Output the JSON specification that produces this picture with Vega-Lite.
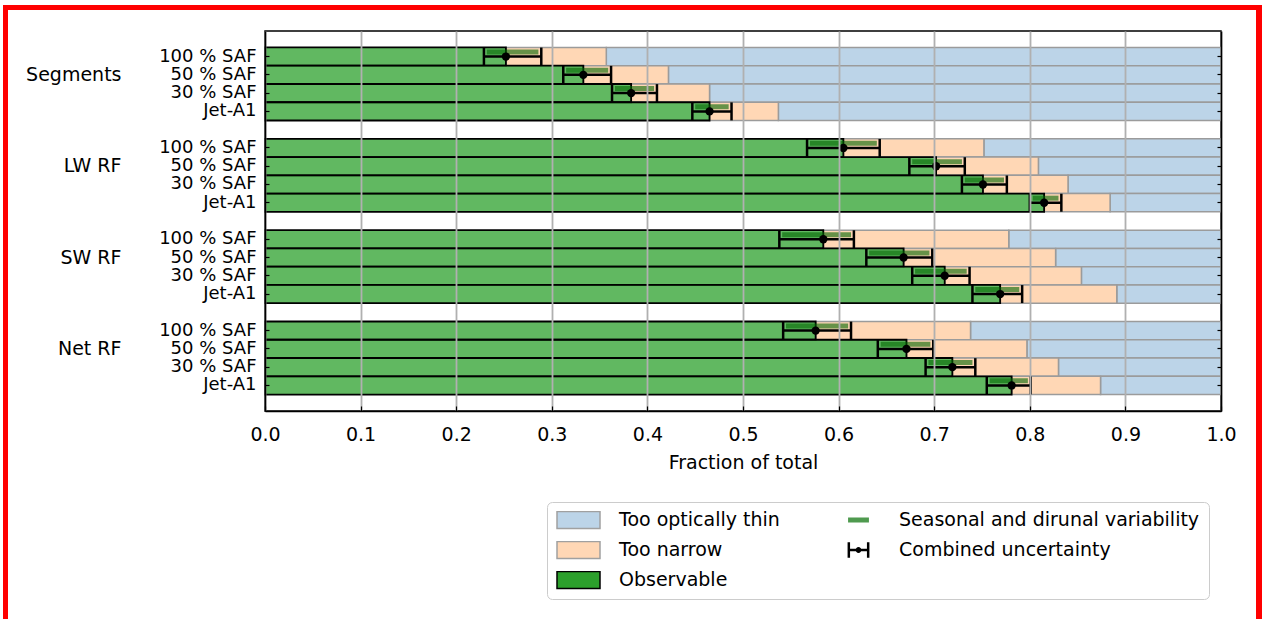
{
  "$schema": "https://vega.github.io/schema/vega-lite/v6.json",
  "background": "white",
  "padding": {"left": 3, "top": 5, "right": 2, "bottom": 0},
  "bounds": "full",
  "spacing": 0,
  "config": {
    "font": "DejaVu Sans",
    "view": {"stroke": null},
    "axis": {"labelFont": "DejaVu Sans", "titleFont": "DejaVu Sans", "labelColor": "black", "titleColor": "black"},
    "legend": {"labelFont": "DejaVu Sans"}
  },
  "datasets": {
    "rows": [
      {"k": "Segments|100 % SAF", "obs": 0.252, "nar": 0.357, "lo": 0.229, "hi": 0.289, "vlo": 0.232, "vhi": 0.286},
      {"k": "Segments|50 % SAF", "obs": 0.333, "nar": 0.422, "lo": 0.312, "hi": 0.362, "vlo": 0.315, "vhi": 0.359},
      {"k": "Segments|30 % SAF", "obs": 0.383, "nar": 0.465, "lo": 0.363, "hi": 0.410, "vlo": 0.366, "vhi": 0.407},
      {"k": "Segments|Jet-A1", "obs": 0.465, "nar": 0.537, "lo": 0.447, "hi": 0.488, "vlo": 0.450, "vhi": 0.485},
      {"k": "LW RF|100 % SAF", "obs": 0.605, "nar": 0.752, "lo": 0.567, "hi": 0.643, "vlo": 0.570, "vhi": 0.640},
      {"k": "LW RF|50 % SAF", "obs": 0.702, "nar": 0.809, "lo": 0.674, "hi": 0.732, "vlo": 0.677, "vhi": 0.729},
      {"k": "LW RF|30 % SAF", "obs": 0.751, "nar": 0.840, "lo": 0.729, "hi": 0.776, "vlo": 0.732, "vhi": 0.773},
      {"k": "LW RF|Jet-A1", "obs": 0.815, "nar": 0.884, "lo": 0.800, "hi": 0.833, "vlo": 0.803, "vhi": 0.830},
      {"k": "SW RF|100 % SAF", "obs": 0.584, "nar": 0.778, "lo": 0.538, "hi": 0.616, "vlo": 0.541, "vhi": 0.613},
      {"k": "SW RF|50 % SAF", "obs": 0.668, "nar": 0.827, "lo": 0.629, "hi": 0.698, "vlo": 0.632, "vhi": 0.695},
      {"k": "SW RF|30 % SAF", "obs": 0.711, "nar": 0.854, "lo": 0.677, "hi": 0.737, "vlo": 0.680, "vhi": 0.734},
      {"k": "SW RF|Jet-A1", "obs": 0.769, "nar": 0.891, "lo": 0.740, "hi": 0.792, "vlo": 0.743, "vhi": 0.789},
      {"k": "Net RF|100 % SAF", "obs": 0.576, "nar": 0.738, "lo": 0.542, "hi": 0.613, "vlo": 0.545, "vhi": 0.610},
      {"k": "Net RF|50 % SAF", "obs": 0.671, "nar": 0.797, "lo": 0.641, "hi": 0.699, "vlo": 0.644, "vhi": 0.696},
      {"k": "Net RF|30 % SAF", "obs": 0.719, "nar": 0.830, "lo": 0.691, "hi": 0.743, "vlo": 0.694, "vhi": 0.740},
      {"k": "Net RF|Jet-A1", "obs": 0.781, "nar": 0.874, "lo": 0.755, "hi": 0.801, "vlo": 0.758, "vhi": 0.798}
    ]
  },
  "hconcat": [
    {"width": 5, "height": 614, "view": {"fill": "#ff0000", "stroke": null}, "data": {"values": []}, "mark": "rule", "encoding": {}},
    {
      "bounds": "flush",
      "spacing": 21,
      "vconcat": [
        {"width": 1248, "height": 5, "view": {"fill": "#ff0000", "stroke": null}, "data": {"values": []}, "mark": "rule", "encoding": {}},
        {
          "bounds": "flush",
          "spacing": 256,
          "hconcat": [
            {"width": 1, "height": 1, "data": {"values": []}, "mark": "rule", "encoding": {}},
            {
              "width": 956,
              "height": 380,
              "view": {"stroke": "black", "strokeWidth": 1.5},
              "data": {"name": "rows"},
              "resolve": {"axis": {"x": "independent", "y": "independent"}},
              "layer": [
                {
                  "mark": {"type": "bar", "opacity": 0},
                  "encoding": {
                    "x": {"field": "obs", "type": "quantitative", "stack": null, "axis": null},
                    "y": {"field": "k", "type": "nominal", "axis": null,
                      "scale": {"type": "band", "paddingInner": 0, "paddingOuter": 0.9, "domain": ["Segments|100 % SAF", "Segments|50 % SAF", "Segments|30 % SAF", "Segments|Jet-A1", "gap1", "LW RF|100 % SAF", "LW RF|50 % SAF", "LW RF|30 % SAF", "LW RF|Jet-A1", "gap2", "SW RF|100 % SAF", "SW RF|50 % SAF", "SW RF|30 % SAF", "SW RF|Jet-A1", "gap3", "Net RF|100 % SAF", "Net RF|50 % SAF", "Net RF|30 % SAF", "Net RF|Jet-A1"]}},
                    "color": {"datum": "Observable",
                      "scale": {"domain": ["Too optically thin", "Too narrow", "Observable", "Seasonal and dirunal variability", "Combined uncertainty"],
                        "range": ["#bcd4e8", "#ffd7b5", "#2ca02c", "#4f9a4f", "#000000"]},
                      "legend": {"orient": "none", "legendX": 544, "legendY": 497, "title": null, "columns": 2,
                        "symbolSize": 1849, "clipHeight": 18, "rowPadding": 11, "columnPadding": 56, "labelOffset": 18,
                        "labelFontSize": 19, "labelColor": "black", "labelLimit": 500, "padding": 9, "cornerRadius": 5,
                        "strokeColor": "#cccccc", "fillColor": "white", "symbolOpacity": 1, "symbolStrokeWidth": 1.5,
                        "symbolType": {"expr": "datum.value === 'Combined uncertainty' ? 'M-0.473,-0.33H-0.427V0.33H-0.473ZM0.427,-0.33H0.473V0.33H0.427ZM-0.45,-0.023H0.45V0.023H-0.45ZM-0.1,0A0.1,0.1,0,1,0,0.1,0A0.1,0.1,0,1,0,-0.1,0Z' : datum.value === 'Seasonal and dirunal variability' ? 'M-0.45,-0.08H0.45V0.08H-0.45Z' : 'M-1,-0.4H1V0.4H-1Z'"},
                        "symbolStrokeColor": {"expr": "datum.value === 'Observable' || datum.value === 'Combined uncertainty' ? '#000000' : datum.value === 'Seasonal and dirunal variability' ? '#4f9a4f' : '#a0a0a0'"}
                      }}
                  }
                },
                {
                  "mark": {"type": "bar", "fill": "#bcd4e8", "stroke": "#9b9b9b", "strokeWidth": 1.5},
                  "encoding": {
                    "x": {"field": "nar", "type": "quantitative", "scale": {"domain": [0, 1], "nice": false, "zero": false},
                      "axis": {"orient": "bottom", "values": [0, 0.1, 0.2, 0.3, 0.4, 0.5, 0.6, 0.7, 0.8, 0.9, 1.0], "format": ".1f", "title": "Fraction of total",
                        "grid": true, "gridColor": "#b0b0b0", "gridWidth": 1.8, "domain": true, "domainColor": "black", "domainWidth": 1.5,
                        "tickColor": "black", "tickSize": -5, "tickWidth": 1.2, "labelFontSize": 19, "labelPadding": 19, "labelFlush": false,
                        "titleFontSize": 19, "titleFontWeight": "normal", "titlePadding": 9, "zindex": 1}},
                    "x2": {"datum": 1},
                    "y": {"field": "k", "type": "nominal",
                      "scale": {"type": "band", "paddingInner": 0, "paddingOuter": 0.9, "domain": ["Segments|100 % SAF", "Segments|50 % SAF", "Segments|30 % SAF", "Segments|Jet-A1", "gap1", "LW RF|100 % SAF", "LW RF|50 % SAF", "LW RF|30 % SAF", "LW RF|Jet-A1", "gap2", "SW RF|100 % SAF", "SW RF|50 % SAF", "SW RF|30 % SAF", "SW RF|Jet-A1", "gap3", "Net RF|100 % SAF", "Net RF|50 % SAF", "Net RF|30 % SAF", "Net RF|Jet-A1"]},
                      "axis": {"orient": "left", "title": null,
                        "values": ["Segments|100 % SAF", "Segments|50 % SAF", "Segments|30 % SAF", "Segments|Jet-A1", "LW RF|100 % SAF", "LW RF|50 % SAF", "LW RF|30 % SAF", "LW RF|Jet-A1", "SW RF|100 % SAF", "SW RF|50 % SAF", "SW RF|30 % SAF", "SW RF|Jet-A1", "Net RF|100 % SAF", "Net RF|50 % SAF", "Net RF|30 % SAF", "Net RF|Jet-A1"],
                        "labelExpr": "split(datum.value, '|')[1]", "tickSize": -4, "tickColor": "black", "tickWidth": 1.2,
                        "domainColor": "black", "domainWidth": 1.5, "labelFontSize": 18, "labelPadding": 13, "zindex": 1}}
                  }
                },
                {
                  "mark": {"type": "bar", "fill": "#ffd7b5", "stroke": "#9b9b9b", "strokeWidth": 1.5},
                  "encoding": {
                    "x": {"field": "obs", "type": "quantitative", "axis": null},
                    "x2": {"field": "nar"},
                    "y": {"field": "k", "type": "nominal",
                      "scale": {"type": "band", "paddingInner": 0, "paddingOuter": 0.9, "domain": ["Segments|100 % SAF", "Segments|50 % SAF", "Segments|30 % SAF", "Segments|Jet-A1", "gap1", "LW RF|100 % SAF", "LW RF|50 % SAF", "LW RF|30 % SAF", "LW RF|Jet-A1", "gap2", "SW RF|100 % SAF", "SW RF|50 % SAF", "SW RF|30 % SAF", "SW RF|Jet-A1", "gap3", "Net RF|100 % SAF", "Net RF|50 % SAF", "Net RF|30 % SAF", "Net RF|Jet-A1"]},
                      "axis": {"orient": "left", "title": null,
                        "values": ["Segments|50 % SAF", "LW RF|50 % SAF", "SW RF|50 % SAF", "Net RF|50 % SAF"],
                        "bandPosition": 1, "labelExpr": "split(datum.value, '|')[0]", "ticks": false, "domain": false,
                        "offset": 144, "labelPadding": 0, "labelFontSize": 19}}
                  }
                },
                {
                  "mark": {"type": "bar", "fill": "#2ca02c", "fillOpacity": 0.75, "stroke": "black", "strokeWidth": 1.8},
                  "encoding": {
                    "x": {"field": "obs", "type": "quantitative", "stack": null, "axis": null},
                    "y": {"field": "k", "type": "nominal",
                      "scale": {"type": "band", "paddingInner": 0, "paddingOuter": 0.9, "domain": ["Segments|100 % SAF", "Segments|50 % SAF", "Segments|30 % SAF", "Segments|Jet-A1", "gap1", "LW RF|100 % SAF", "LW RF|50 % SAF", "LW RF|30 % SAF", "LW RF|Jet-A1", "gap2", "SW RF|100 % SAF", "SW RF|50 % SAF", "SW RF|30 % SAF", "SW RF|Jet-A1", "gap3", "Net RF|100 % SAF", "Net RF|50 % SAF", "Net RF|30 % SAF", "Net RF|Jet-A1"]},
                      "axis": {"orient": "right", "title": null, "labels": false,
                        "values": ["Segments|100 % SAF", "Segments|50 % SAF", "Segments|30 % SAF", "Segments|Jet-A1", "LW RF|100 % SAF", "LW RF|50 % SAF", "LW RF|30 % SAF", "LW RF|Jet-A1", "SW RF|100 % SAF", "SW RF|50 % SAF", "SW RF|30 % SAF", "SW RF|Jet-A1", "Net RF|100 % SAF", "Net RF|50 % SAF", "Net RF|30 % SAF", "Net RF|Jet-A1"],
                        "tickSize": -4, "tickColor": "black", "tickWidth": 1.2, "domainColor": "black", "domainWidth": 1.5, "zindex": 1}}
                  }
                },
                {
                  "mark": {"type": "rule", "stroke": "#006400", "strokeOpacity": 0.6, "strokeWidth": 5, "strokeCap": "butt"},
                  "encoding": {
                    "x": {"field": "vlo", "type": "quantitative", "axis": null},
                    "x2": {"field": "vhi"},
                    "y": {"field": "k", "type": "nominal", "bandPosition": 0.25, "axis": null,
                      "scale": {"type": "band", "paddingInner": 0, "paddingOuter": 0.9, "domain": ["Segments|100 % SAF", "Segments|50 % SAF", "Segments|30 % SAF", "Segments|Jet-A1", "gap1", "LW RF|100 % SAF", "LW RF|50 % SAF", "LW RF|30 % SAF", "LW RF|Jet-A1", "gap2", "SW RF|100 % SAF", "SW RF|50 % SAF", "SW RF|30 % SAF", "SW RF|Jet-A1", "gap3", "Net RF|100 % SAF", "Net RF|50 % SAF", "Net RF|30 % SAF", "Net RF|Jet-A1"]}}
                  }
                },
                {
                  "mark": {"type": "rule", "stroke": "black", "strokeWidth": 2.5},
                  "encoding": {
                    "x": {"field": "lo", "type": "quantitative", "axis": null},
                    "x2": {"field": "hi"},
                    "y": {"field": "k", "type": "nominal", "axis": null,
                      "scale": {"type": "band", "paddingInner": 0, "paddingOuter": 0.9, "domain": ["Segments|100 % SAF", "Segments|50 % SAF", "Segments|30 % SAF", "Segments|Jet-A1", "gap1", "LW RF|100 % SAF", "LW RF|50 % SAF", "LW RF|30 % SAF", "LW RF|Jet-A1", "gap2", "SW RF|100 % SAF", "SW RF|50 % SAF", "SW RF|30 % SAF", "SW RF|Jet-A1", "gap3", "Net RF|100 % SAF", "Net RF|50 % SAF", "Net RF|30 % SAF", "Net RF|Jet-A1"]}}
                  }
                },
                {
                  "mark": {"type": "tick", "orient": "vertical", "color": "black", "thickness": 2.5, "size": 18, "opacity": 1},
                  "encoding": {
                    "x": {"field": "lo", "type": "quantitative", "axis": null},
                    "y": {"field": "k", "type": "nominal", "axis": null,
                      "scale": {"type": "band", "paddingInner": 0, "paddingOuter": 0.9, "domain": ["Segments|100 % SAF", "Segments|50 % SAF", "Segments|30 % SAF", "Segments|Jet-A1", "gap1", "LW RF|100 % SAF", "LW RF|50 % SAF", "LW RF|30 % SAF", "LW RF|Jet-A1", "gap2", "SW RF|100 % SAF", "SW RF|50 % SAF", "SW RF|30 % SAF", "SW RF|Jet-A1", "gap3", "Net RF|100 % SAF", "Net RF|50 % SAF", "Net RF|30 % SAF", "Net RF|Jet-A1"]}}
                  }
                },
                {
                  "mark": {"type": "tick", "orient": "vertical", "color": "black", "thickness": 2.5, "size": 18, "opacity": 1},
                  "encoding": {
                    "x": {"field": "hi", "type": "quantitative", "axis": null},
                    "y": {"field": "k", "type": "nominal", "axis": null,
                      "scale": {"type": "band", "paddingInner": 0, "paddingOuter": 0.9, "domain": ["Segments|100 % SAF", "Segments|50 % SAF", "Segments|30 % SAF", "Segments|Jet-A1", "gap1", "LW RF|100 % SAF", "LW RF|50 % SAF", "LW RF|30 % SAF", "LW RF|Jet-A1", "gap2", "SW RF|100 % SAF", "SW RF|50 % SAF", "SW RF|30 % SAF", "SW RF|Jet-A1", "gap3", "Net RF|100 % SAF", "Net RF|50 % SAF", "Net RF|30 % SAF", "Net RF|Jet-A1"]}}
                  }
                },
                {
                  "mark": {"type": "point", "filled": true, "color": "black", "size": 70, "opacity": 1},
                  "encoding": {
                    "x": {"field": "obs", "type": "quantitative", "axis": null},
                    "y": {"field": "k", "type": "nominal", "axis": null,
                      "scale": {"type": "band", "paddingInner": 0, "paddingOuter": 0.9, "domain": ["Segments|100 % SAF", "Segments|50 % SAF", "Segments|30 % SAF", "Segments|Jet-A1", "gap1", "LW RF|100 % SAF", "LW RF|50 % SAF", "LW RF|30 % SAF", "LW RF|Jet-A1", "gap2", "SW RF|100 % SAF", "SW RF|50 % SAF", "SW RF|30 % SAF", "SW RF|Jet-A1", "gap3", "Net RF|100 % SAF", "Net RF|50 % SAF", "Net RF|30 % SAF", "Net RF|Jet-A1"]}}
                  }
                }
              ]
            }
          ]
        }
      ]
    },
    {"width": 6, "height": 614, "view": {"fill": "#ff0000", "stroke": null}, "data": {"values": []}, "mark": "rule", "encoding": {}}
  ]
}
